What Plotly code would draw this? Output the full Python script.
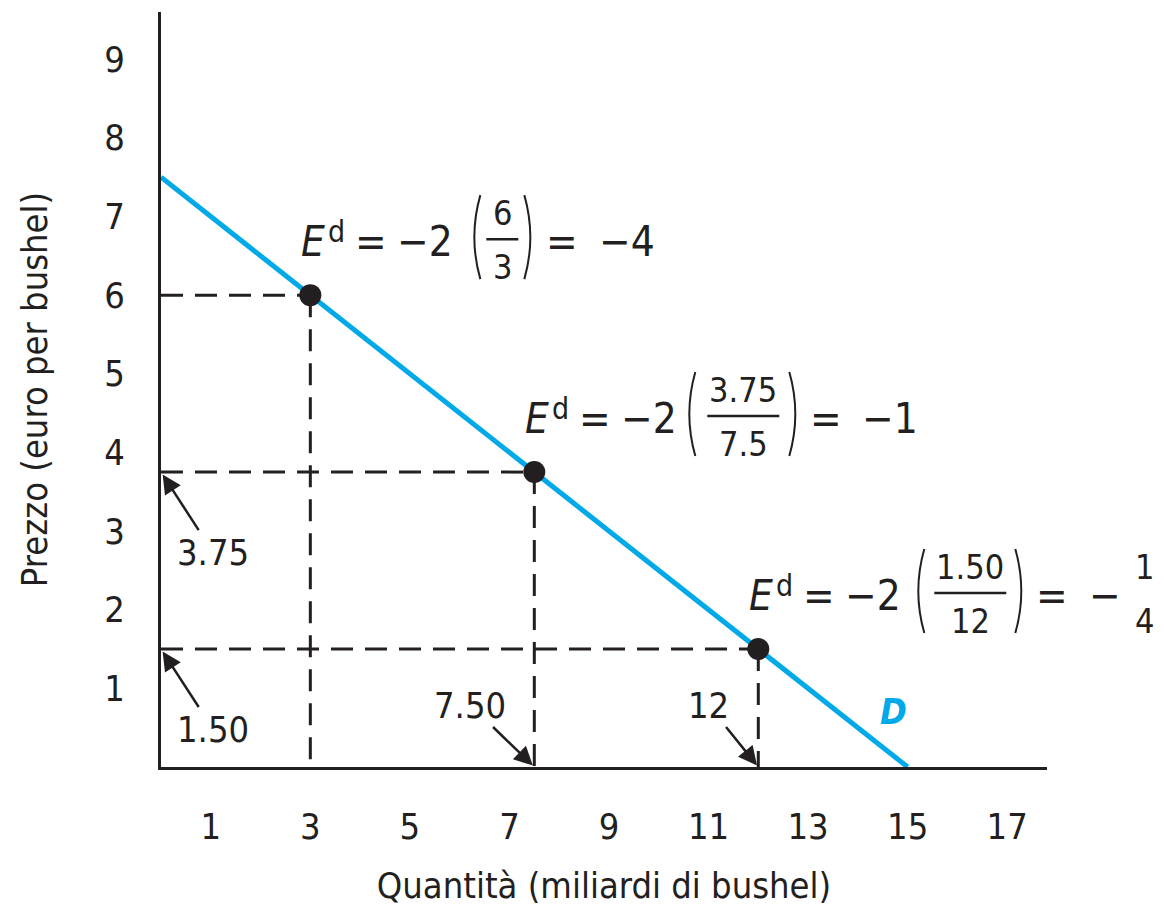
import plotly.graph_objects as go

# demand curve endpoints (quantity, price)
demand_q = [0, 15]
demand_p = [7.5, 0]

# the three points where elasticity is computed
point_q = [3, 7.5, 12]
point_p = [6, 3.75, 1.5]

# fraction parts of each elasticity formula
frac_num = ["6", "3.75", "1.50"]
frac_den = ["3", "7.5", "12"]
result = ["−4", "−1", None]

x_ticks = [1, 3, 5, 7, 9, 11, 13, 15, 17]
y_ticks = [1, 2, 3, 4, 5, 6, 7, 8, 9]

# labels with arrows on the axes
y_marks = [3.75, 1.50]
y_mark_text = ["3.75", "1.50"]
x_marks = [7.5, 12]
x_mark_text = ["7.50", "12"]

FONT = "DejaVu Sans Condensed, Liberation Sans Narrow, Arial Narrow, sans-serif"
INK = "#231f20"
BLUE = "#00a9e8"

fig = go.Figure()

fig.add_trace(go.Scatter(x=demand_q, y=demand_p, mode="lines",
                         line=dict(color=BLUE, width=5), cliponaxis=False,
                         hoverinfo="skip"))

# dashed guides from each point to the axes
dx, dy = [], []
for q, p in zip(point_q, point_p):
    dx += [0, q, None, q, q, None]
    dy += [p, p, None, p, 0, None]
fig.add_trace(go.Scatter(x=dx, y=dy, mode="lines",
                         line=dict(color=INK, width=3, dash="22px,12px"),
                         hoverinfo="skip"))

fig.add_trace(go.Scatter(x=point_q, y=point_p, mode="markers",
                         marker=dict(color=INK, size=22), cliponaxis=False))

# per-formula horizontal layout, pixels from the left of "E"
# (bar x0, bar x1, left paren, right paren, "=" centre, rhs left)
layouts = [
    (187, 219, 177, 229, 263, 298),
    (184, 256, 168, 270, 303, 337),
    (187, 259, 173, 272, 305, 340),
]

shapes = []
annots = []


def txt(q, p, text, xs, ys, size, xanchor="center"):
    annots.append(dict(x=q, y=p, xref="x", yref="y", text=text, showarrow=False,
                       xshift=xs, yshift=ys, xanchor=xanchor, yanchor="middle",
                       font=dict(family=FONT, size=size, color=INK)))


def seg(q, p, x0, y0, x1, y1):
    shapes.append(dict(type="line", xref="x", yref="y", xsizemode="pixel",
                       ysizemode="pixel", xanchor=q, yanchor=p,
                       x0=x0, y0=y0, x1=x1, y1=y1,
                       line=dict(color=INK, width=2.5)))


def paren(q, p, x, top, bot, sign):
    mid = (top + bot) / 2
    path = f"M {x + 4 * sign},{top} Q {x - 8 * sign},{mid} {x + 4 * sign},{bot}"
    shapes.append(dict(type="path", xref="x", yref="y", xsizemode="pixel",
                       ysizemode="pixel", xanchor=q, yanchor=p, path=path,
                       line=dict(color=INK, width=2)))


for i, (q, p) in enumerate(zip(point_q, point_p)):
    b0, b1, lp, rp, eqc, rhs = layouts[i]
    e0 = -11  # left edge of "E" relative to the point
    mid = 54
    txt(q, p, "<i>E</i>", e0, mid, 42, "left")
    txt(q, p, "d", e0 + 27, mid + 10, 30, "left")
    txt(q, p, "=", e0 + 72, mid, 42)
    txt(q, p, "−2", e0 + 156, mid, 42, "right")
    paren(q, p, e0 + lp, mid + 46, mid - 38, 1)
    txt(q, p, frac_num[i], e0 + (b0 + b1) / 2, mid + 28, 34)
    seg(q, p, e0 + b0, mid + 2, e0 + b1, mid + 2)
    txt(q, p, frac_den[i], e0 + (b0 + b1) / 2, mid - 26, 34)
    paren(q, p, e0 + rp, mid + 46, mid - 38, -1)
    txt(q, p, "=", e0 + eqc, mid, 42)
    if result[i] is not None:
        txt(q, p, result[i], e0 + rhs, mid, 42, "left")
    else:
        txt(q, p, "−", e0 + rhs, mid, 42, "left")
        txt(q, p, "1", e0 + 397, mid + 28, 34)
        seg(q, p, e0 + 384, mid + 2, e0 + 410, mid + 2)
        txt(q, p, "4", e0 + 397, mid - 26, 34)

# arrows pointing at the axis values
for v, t in zip(y_marks, y_mark_text):
    annots.append(dict(x=0, y=v, xref="x", yref="y", text=t, showarrow=True,
                       ax=52, ay=80, arrowhead=2, arrowsize=1.5, arrowwidth=2.5,
                       arrowcolor=INK, standoff=3,
                       font=dict(family=FONT, size=36, color=INK)))
for v, t in zip(x_marks, x_mark_text):
    annots.append(dict(x=v, y=0, xref="x", yref="y", text=t, showarrow=True,
                       ax=-64 if len(t) > 2 else -50, ay=-62, arrowhead=2,
                       arrowsize=1.5, arrowwidth=2.5, arrowcolor=INK, standoff=2,
                       font=dict(family=FONT, size=36, color=INK)))

# curve label
annots.append(dict(x=demand_q[-1], y=demand_p[-1], xref="x", yref="y",
                   text="<b><i>D</i></b>", showarrow=False, xshift=-14, yshift=56,
                   font=dict(family=FONT, size=36, color=BLUE)))

# page body has an 8px margin, so pull the plot area up/left by that much
fig.update_layout(
    width=1164, height=910,
    margin=dict(l=153, r=125, t=4, b=151),
    paper_bgcolor="white", plot_bgcolor="white",
    showlegend=False,
    font=dict(family=FONT, color=INK),
    shapes=shapes, annotations=annots,
)
fig.update_xaxes(range=[0, 17.8], tickvals=x_ticks, showgrid=False, zeroline=False,
                 showline=True, linecolor=INK, linewidth=3, ticks="", automargin=False,
                 ticklabelstandoff=26, tickfont=dict(family=FONT, size=36, color=INK),
                 title=dict(text="Quantità (miliardi di bushel)", standoff=27,
                            font=dict(family=FONT, size=36, color=INK)))
fig.update_yaxes(range=[0, 9.6], tickvals=y_ticks, showgrid=False, zeroline=False,
                 showline=True, linecolor=INK, linewidth=3, ticks="", automargin=False,
                 ticklabelstandoff=26, tickfont=dict(family=FONT, size=36, color=INK),
                 title=dict(text="Prezzo (euro per bushel)", standoff=46,
                            font=dict(family=FONT, size=36, color=INK)))

fig.write_html("out.html")
